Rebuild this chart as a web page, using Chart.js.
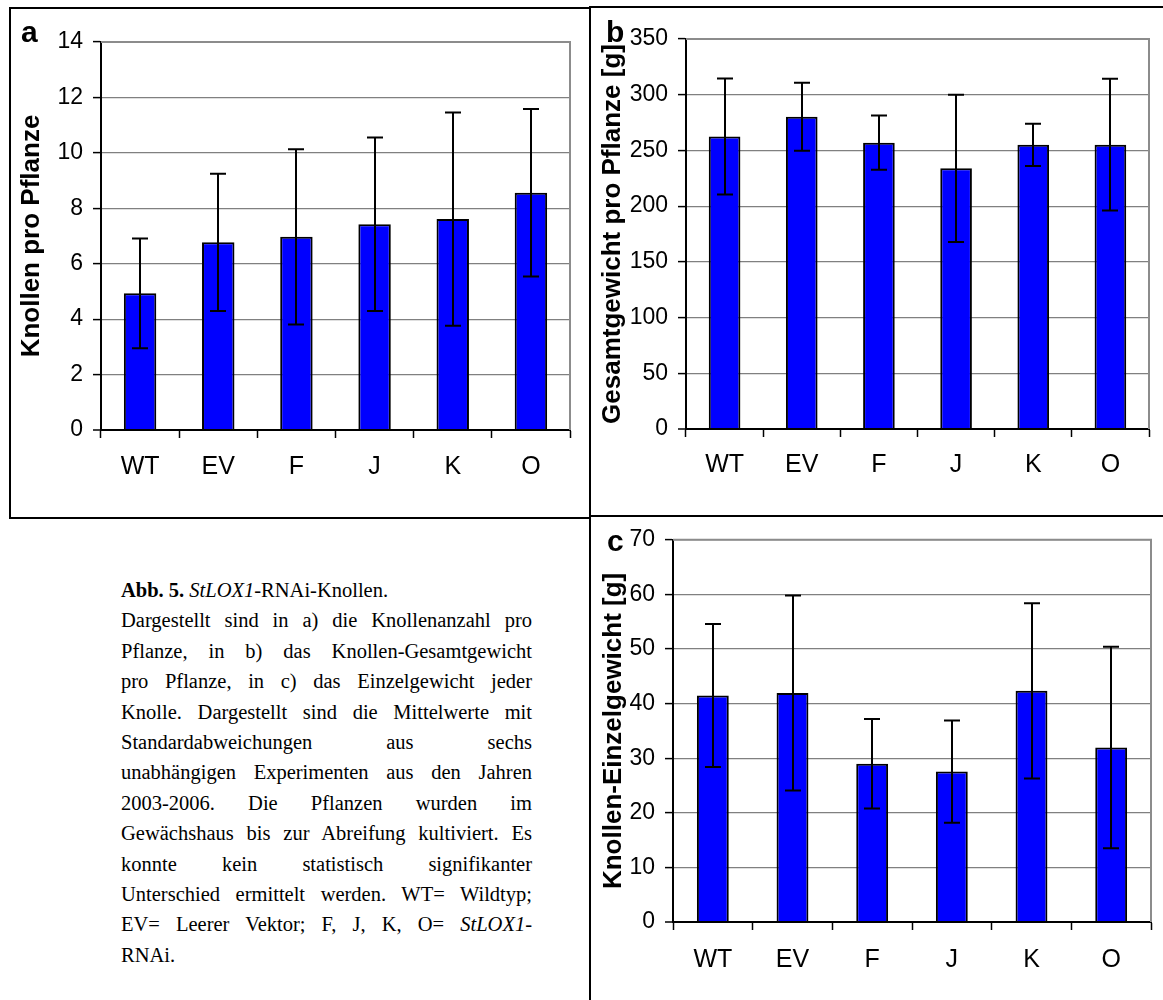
<!DOCTYPE html>
<html>
<head>
<meta charset="utf-8">
<title>StLOX1-RNAi-Knollen</title>
<script src="https://cdn.jsdelivr.net/npm/chart.js@4.4.1/dist/chart.umd.min.js"></script>
<style>
  html, body { margin: 0; padding: 0; background: #fff; overflow: hidden; }
  body { width: 1163px; height: 1000px; position: relative; }
  .box { position: absolute; border: 2px solid #000; box-sizing: border-box; }
  .cv { position: absolute; }
  .letter { position: absolute; font: bold 30px "Liberation Sans", Arial, sans-serif; line-height: 1; color: #000; }
  #caption { position: absolute; left: 121px; top: 575px; width: 411px;
             font: 20.5px "Liberation Serif", "Times New Roman", serif; line-height: 30.4px; color: #000; }
  #caption div { white-space: nowrap; }
  #caption .j { text-align: justify; text-align-last: justify; white-space: normal; }
</style>
</head>
<body>

<div class="box" style="left:9px; top:7px; width:582px; height:512px;"></div>
<div class="box" style="left:589px; top:6px; width:620px; height:511px;"></div>
<div class="box" style="left:589px; top:515px; width:620px; height:600px;"></div>

<canvas id="chartA" class="cv" width="590" height="518" style="left:0; top:0;"></canvas>
<canvas id="chartB" class="cv" width="573" height="516" style="left:590px; top:0;"></canvas>
<canvas id="chartC" class="cv" width="573" height="484" style="left:590px; top:516px;"></canvas>

<span class="letter" style="left:21px; top:17px;">a</span>
<span class="letter" style="left:606px; top:17px;">b</span>
<span class="letter" style="left:607px; top:526px;">c</span>

<div id="caption">
  <div><b>Abb. 5.</b> <i>StLOX1</i>-RNAi-Knollen.</div>
  <div class="j">Dargestellt sind in a) die Knollenanzahl pro</div>
  <div class="j">Pflanze, in b) das Knollen-Gesamtgewicht</div>
  <div class="j">pro Pflanze, in c) das Einzelgewicht jeder</div>
  <div class="j">Knolle. Dargestellt sind die Mittelwerte mit</div>
  <div class="j">Standardabweichungen aus sechs</div>
  <div class="j">unabhängigen Experimenten aus den Jahren</div>
  <div class="j">2003-2006. Die Pflanzen wurden im</div>
  <div class="j">Gewächshaus bis zur Abreifung kultiviert. Es</div>
  <div class="j">konnte kein statistisch signifikanter</div>
  <div class="j">Unterschied ermittelt werden. WT= Wildtyp;</div>
  <div class="j">EV= Leerer Vektor; F, J, K, O= <i>StLOX1</i>-</div>
  <div>RNAi.</div>
</div>

<script>
// Lines: WT = wild type, EV = empty vector, F/J/K/O = StLOX1-RNAi lines
const categories = ['WT', 'EV', 'F', 'J', 'K', 'O'];

// (a) tubers per plant: mean and standard deviation
const tubersMean = [4.93, 6.77, 6.97, 7.42, 7.61, 8.56];
const tubersSD   = [1.98, 2.48, 3.16, 3.13, 3.85, 3.02];

// (b) total tuber weight per plant [g]
const totalWeightMean = [262.5, 280.3, 257.0, 233.9, 255.0, 255.2];
const totalWeightSD   = [52.0, 30.5, 24.3, 66.1, 18.9, 59.1];

// (c) single tuber weight [g]
const singleWeightMean = [41.5, 41.95, 29.0, 27.55, 42.35, 31.95];
const singleWeightSD   = [13.1, 17.85, 8.2, 9.35, 16.05, 18.45];

// y-axis ranges and tick steps
const axisMax  = { a: 14, b: 350, c: 70 };
const axisStep = { a: 2,  b: 50,  c: 10 };

// y-axis titles
const axisTitles = {
  a: 'Knollen pro Pflanze',
  b: 'Gesamtgewicht pro Pflanze [g]',
  c: 'Knollen-Einzelgewicht [g]'
};

Chart.defaults.font.family = '"Liberation Sans", Arial, sans-serif';
Chart.defaults.color = '#000';

// Standard deviation whiskers drawn on top of the bars
const errorBars = {
  id: 'errorBars',
  afterDatasetsDraw(chart) {
    const { ctx } = chart;
    const yScale = chart.scales.y;
    const ds = chart.data.datasets[0];
    const meta = chart.getDatasetMeta(0);
    ctx.save();
    ctx.strokeStyle = '#000';
    ctx.lineWidth = 2;
    meta.data.forEach((bar, i) => {
      const m = ds.data[i], s = ds.errors[i];
      const yt = yScale.getPixelForValue(m + s);
      const yb = yScale.getPixelForValue(m - s);
      const cx = Math.round(bar.x);
      ctx.beginPath();
      ctx.moveTo(cx, yt); ctx.lineTo(cx, yb);
      ctx.moveTo(cx - 8, yt); ctx.lineTo(cx + 8, yt);
      ctx.moveTo(cx - 8, yb); ctx.lineTo(cx + 8, yb);
      ctx.stroke();
    });
    ctx.restore();
  }
};

// Grey frame on the top and right side of the plot area
const plotFrame = {
  id: 'plotFrame',
  beforeDatasetsDraw(chart) {
    const { ctx, chartArea: a } = chart;
    ctx.save();
    ctx.strokeStyle = '#8c8c8c';
    ctx.lineWidth = 2;
    ctx.beginPath();
    ctx.moveTo(a.left, a.top);
    ctx.lineTo(a.right, a.top);
    ctx.lineTo(a.right, a.bottom);
    ctx.stroke();
    ctx.restore();
  }
};

function buildChart(canvasId, key, means, sds, g) {
  return new Chart(document.getElementById(canvasId), {
    type: 'bar',
    data: {
      labels: categories,
      datasets: [{
        data: means,
        errors: sds,
        backgroundColor: '#0000ff',
        borderColor: '#000',
        borderWidth: 2,
        barPercentage: g.bar,
        categoryPercentage: 1
      }]
    },
    options: {
      responsive: false,
      devicePixelRatio: 1,
      animation: false,
      layout: { padding: { left: 0, top: g.top, right: g.right, bottom: 0 } },
      plugins: { legend: { display: false }, tooltip: { enabled: false } },
      scales: {
        x: {
          offset: true,
          grid: { display: true, drawOnChartArea: false, offset: true,
                  tickColor: '#000', tickLength: 8, tickWidth: 1.5 },
          border: { color: '#000', width: 2 },
          ticks: { font: { size: 25 }, color: '#000', padding: g.xPad },
          afterFit: s => { s.height = g.xH; }
        },
        y: {
          min: 0,
          max: axisMax[key],
          ticks: { stepSize: axisStep[key], font: { size: 23 }, color: '#000', padding: 10 },
          grid: {
            color: c => (c.tick && c.tick.value === 0) ? '#000' : '#808080',
            lineWidth: c => (c.tick && c.tick.value === 0) ? 2 : 1.2,
            tickColor: '#000', tickLength: 8, tickWidth: 1.5
          },
          border: { color: '#000', width: 2 },
          title: { display: true, text: axisTitles[key], color: '#000',
                   font: { size: 26, weight: 'bold' }, padding: { top: g.tPad, bottom: 0 } },
          afterFit: s => { s.width = g.yW; }
        }
      }
    },
    plugins: [plotFrame, errorBars]
  });
}

buildChart('chartA', 'a', tubersMean, tubersSD,
  { top: 42, right: 20, yW: 101, xH: 88, xPad: 14, tPad: 16, bar: 0.415 });
buildChart('chartB', 'b', totalWeightMean, totalWeightSD,
  { top: 39, right: 14, yW: 96, xH: 87, xPad: 13, tPad: 7, bar: 0.41 });
buildChart('chartC', 'c', singleWeightMean, singleWeightSD,
  { top: 23, right: 12, yW: 83, xH: 78, xPad: 15, tPad: 8, bar: 0.40 });
</script>
</body>
</html>
